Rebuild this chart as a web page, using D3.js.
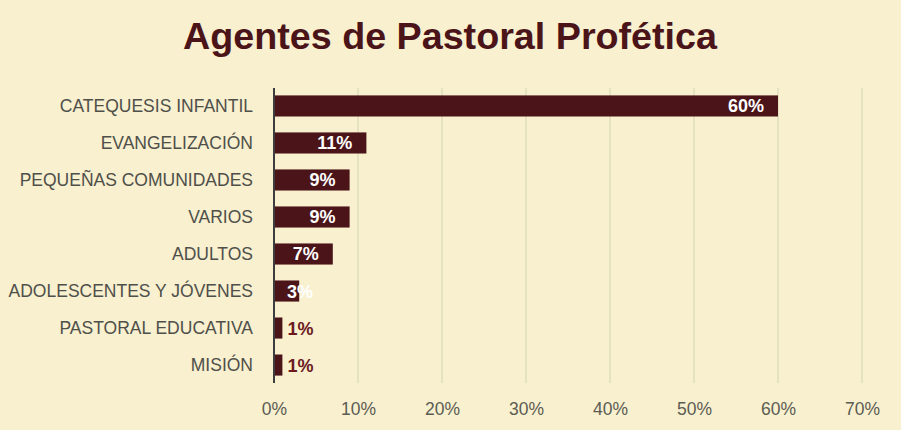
<!DOCTYPE html>
<html><head><meta charset="utf-8">
<script src="https://cdn.jsdelivr.net/npm/d3@7"></script>
<style>html,body{margin:0;padding:0;background:#f8f0cf;}svg{display:block;}</style>
</head><body>
<script>
const categories = ["CATEQUESIS INFANTIL","EVANGELIZACIÓN","PEQUEÑAS COMUNIDADES","VARIOS","ADULTOS","ADOLESCENTES Y JÓVENES","PASTORAL EDUCATIVA","MISIÓN"];
const values = [60, 11, 9, 9, 7, 3, 1, 1];
const ticks = [0,10,20,30,40,50,60,70];
const title = "Agentes de Pastoral Profética";

const W = 901, H = 430;
const FONT = "'Liberation Sans', Arial, sans-serif";
const svg = d3.select("body").append("svg").attr("width", W).attr("height", H);
svg.append("rect").attr("width", W).attr("height", H).attr("fill", "#f8f0cf");

const x = d3.scaleLinear().domain([0,70]).range([274, 862]);
const y = d3.scaleBand().domain(categories).range([88, 383]).paddingInner(0.43).paddingOuter(0.2);

svg.append("text").attr("x", 450).attr("y", 49).attr("text-anchor","middle")
  .attr("font-family",FONT).attr("font-weight",700).attr("font-size",37)
  .attr("textLength",534).attr("lengthAdjust","spacingAndGlyphs")
  .attr("fill","#4a1419").text(title);

// grid
svg.append("g").selectAll("line").data(ticks.filter(t => t > 0)).join("line")
  .attr("x1", d => x(d)).attr("x2", d => x(d)).attr("y1", 88).attr("y2", 383)
  .attr("stroke","#d8d9b6").attr("stroke-width",1.2);

// x axis labels
const xAxis = d3.axisBottom(x).tickValues(ticks).tickFormat(d => d + "%").tickSize(0).tickPadding(0);
const gx = svg.append("g").attr("transform","translate(0,383)").call(xAxis);
gx.select(".domain").remove();
gx.selectAll("text").attr("y", 32).attr("dy", 0).attr("font-family",FONT).attr("font-size",17.5).attr("fill","#5c5c54");

// bars
svg.append("g").selectAll("rect").data(values).join("rect")
  .attr("x", x(0)).attr("y", (d,i) => y(categories[i]))
  .attr("width", d => x(d) - x(0)).attr("height", y.bandwidth())
  .attr("fill","#4a1419");

// y axis
const yAxis = d3.axisLeft(y).tickSize(0).tickPadding(21);
const gy = svg.append("g").attr("transform", `translate(${x(0)},0)`).call(yAxis);
gy.select(".domain").attr("stroke","#3d3d3d").attr("stroke-width",2).attr("d", `M0,88V383`);
gy.selectAll("text").attr("font-family",FONT).attr("font-size",17.5).attr("fill","#4f4f4a");

// value labels
const lbl = svg.append("g").selectAll("text").data(values).join("text")
  .attr("y", (d,i) => y(categories[i]) + y.bandwidth()/2).attr("dy","0.36em")
  .attr("font-family",FONT).attr("font-weight",700).attr("font-size",18)
  .text(d => d + "%");
lbl.each(function(d){
  const t = d3.select(this);
  if (d <= 1) {
    t.attr("x", x(d) + 5).attr("fill","#6b1a1f").attr("text-anchor","start");
  } else {
    const w = this.getComputedTextLength();
    let end = x(d) - 14;
    if (end - w < x(0) + 13) end = x(0) + 13 + w;
    t.attr("x", end).attr("text-anchor","end").attr("fill","#ffffff");
  }
});
</script>
</body></html>
